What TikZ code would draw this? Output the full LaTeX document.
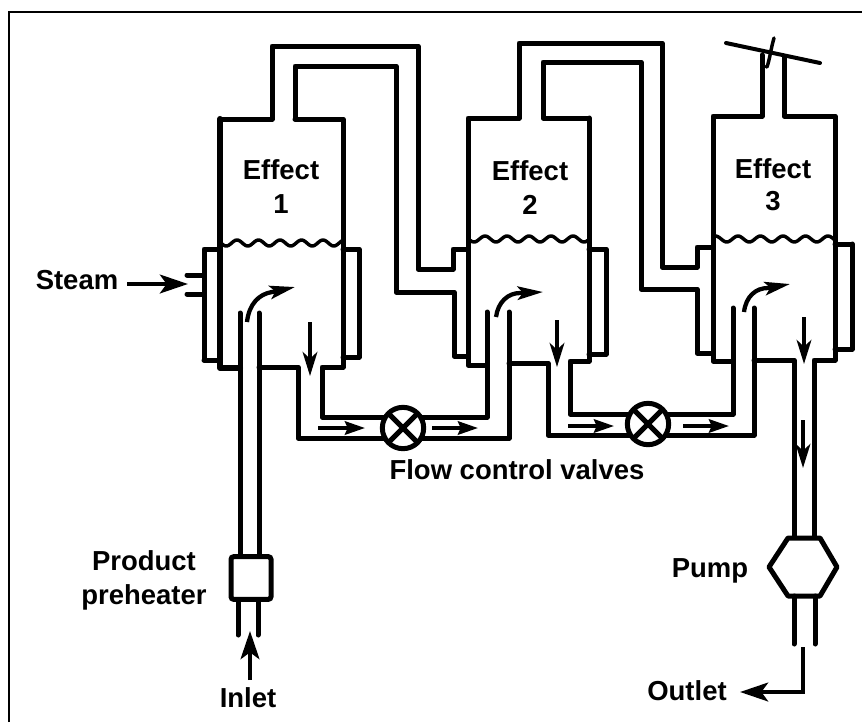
\documentclass[tikz,border=0pt]{standalone}
\usepackage{fontspec}
\setmainfont{Liberation Sans}
\usetikzlibrary{arrows.meta,calc,shapes.misc}
\tikzset{
  px/.style={x=0.75pt,y=-0.75pt},
  pipe/.style={line width=3.75pt,line join=round,line cap=round},
  wall/.style={line width=3.75pt,line join=round,line cap=round},
  wave/.style={line width=2.6pt,line join=round},
  frameline/.style={line width=2pt},
  flowH/.style={line width=2.8pt,-{Stealth[length=15pt,width=10pt,inset=2pt]}},
  flowV/.style={line width=2.8pt,-{Stealth[length=18pt,width=11pt,inset=5pt]}},
  flowBig/.style={line width=3.4pt,-{Stealth[length=21pt,width=14pt,inset=5pt]}},
  curl/.style={line width=3.2pt,-{Stealth[length=19pt,width=10pt,inset=4pt]}},
  lbl/.style={font=\bfseries\fontsize{20.6pt}{24pt}\selectfont,inner sep=0pt,anchor=base},
  valve/.style={circle,draw,fill=white,line width=3.75pt,minimum size=31pt,inner sep=0pt,
    path picture={\draw[line width=3.75pt] (path picture bounding box.north west) -- (path picture bounding box.south east)
      (path picture bounding box.south west) -- (path picture bounding box.north east);}},
  heater/.style={rectangle,rounded corners=2pt,draw,fill=white,line width=3.75pt,minimum width=30pt,minimum height=32pt,inner sep=0pt}
}
\begin{document}
\begin{tikzpicture}[px]
\useasboundingbox (0,0) rectangle (862,722);
\fill[white] (0,0) rectangle (862,722);
% frame
\draw[frameline] (9,722) -- (9,12) -- (862,12);

% Effect 1 vessel + vapour pipe
\draw[pipe] (220,119) -- (272,119) -- (272,46) -- (418,46) -- (418,269) -- (453,269) -- (453,249) -- (468,249);
\draw[pipe,line width=4.6pt] (240,368) -- (220,368) -- (220,119);
\draw[pipe] (295,119) -- (295,66) -- (396,66) -- (396,292) -- (454,292) -- (454,356) -- (468,356);
\draw[pipe] (295,119) -- (343,119) -- (343,367) -- (322,367) -- (322,417) -- (487,417) -- (487,312);
\draw[pipe] (204,360) -- (204,249) -- (220,249);
\draw[pipe] (220,360) -- (204,360);
\draw[pipe] (343,249) -- (359,249) -- (359,357) -- (343,357);
\draw[pipe] (240,313) -- (240,555);
\draw[pipe] (259,313) -- (259,555);
\draw[pipe] (259,367) -- (298,367) -- (298,438) -- (509,438) -- (509,312);
\draw[pipe] (187,275) -- (204,275);
\draw[pipe] (187,294) -- (204,294);
\draw[wave] plot[domain=220:343,samples=90,smooth] (\x,{243-3*cos((\x-237)*16.74)});

% Effect 2
\draw[pipe] (487,365) -- (468,365) -- (468,118) -- (519,118) -- (519,43) -- (662,43) -- (662,267) -- (697,267) -- (697,247) -- (712,247);
\draw[pipe] (589,118) -- (543,118) -- (543,62) -- (641,62) -- (641,289) -- (697,289) -- (697,353) -- (712,353);
\draw[wall] (589,118) -- (589,361) -- (570,361) -- (570,414) -- (733,414) -- (733,308);
\draw[pipe] (589,249) -- (606,249) -- (606,354) -- (589,354);
\draw[pipe] (509,363) -- (548,363) -- (548,435) -- (754,435) -- (754,308);
\draw[wave] plot[domain=468:589,samples=90,smooth] (\x,{239-3*cos((\x-485)*16.36)});

% Effect 3
\draw[pipe] (733,361) -- (713,361) -- (713,116) -- (762,116) -- (762,55);
\draw[pipe] (784,57) -- (784,116) -- (835,116) -- (835,360) -- (814,360) -- (814,538);
\draw[wall] (835,244) -- (852,244);
\draw[pipe] (852,244) -- (852,349) -- (835,349);
\draw[pipe] (754,360) -- (794,360) -- (794,538);
\draw[wave] plot[domain=713:835,samples=90,smooth] (\x,{239-3*cos((\x-738)*16)});

% butterfly valve at the vapour outlet
\draw[line width=3pt,line cap=round] (726,43) -- (820,63);
\draw[line width=2.6pt,line cap=round] (774,38) .. controls (771,48) and (770,58) .. (767,67);
\draw[line width=2pt] (762,55) -- (763,66) -- (767,67);

% valves
\node[valve] (v1) at (403,428) {};
\node[valve] (v2) at (648,424) {};

% preheater
\node[heater] (ph) at (251,578) {};
\draw[pipe] (238,601) -- (238,635);
\draw[pipe] (258,601) -- (258,635);

% pump
\coordinate (pa) at (788,538);
\coordinate (pb) at (820,538);
\coordinate (pc) at (837,567);
\coordinate (pd) at (820,596);
\coordinate (pe) at (788,596);
\coordinate (pf) at (769,567);
\draw[pipe,fill=white] (pa) -- (pb) -- (pc) -- (pd) -- (pe) -- (pf) -- cycle;
\draw[pipe] (794,596) -- (794,644);
\draw[pipe] (815,596) -- (815,644);

% flow arrows
\draw[flowBig] (127,284) -- (188,284);
\draw[flowH] (318,428) -- (365,428);
\draw[flowH] (432,428) -- (478,428);
\draw[flowH] (568,426) -- (614,426);
\draw[flowH] (683,426) -- (729,426);
\draw[flowV] (310,322) -- (310,376);
\draw[flowV] (557,320) -- (557,367);
\draw[flowV] (804,317) -- (804,364);
\draw[flowV] (803,420) -- (803,468);
\draw[flowBig] (250,680) -- (250,631);
\draw[flowBig,line join=miter] (803,647) -- (803,692) -- (740,692);
\draw[curl] (247,322) .. controls (249,304) and (259,294) .. (272,292) -- (295,287);
\draw[curl] (496,317) .. controls (498,302) and (508,293) .. (520,293) -- (543,292);
\draw[curl] (744,312) .. controls (746,296) and (756,288) .. (768,288) -- (790,284);

% labels
\node[lbl] (e1a) at (281,179) {Effect};
\node[lbl] (e1b) at (281,213) {1};
\node[lbl] (e2a) at (530,180) {Effect};
\node[lbl] (e2b) at (530,214) {2};
\node[lbl] (e3a) at (773,178) {Effect};
\node[lbl] (e3b) at (773,210) {3};
\node[lbl] (steam) at (77,289) {Steam};
\node[lbl] (flow) at (517,479) {Flow control valves};
\node[lbl] (prod) at (144,570) {Product};
\node[lbl] (preh) at (144,604) {preheater};
\node[lbl] (pumpl) at (710,577) {Pump};
\node[lbl] (outl) at (687,700) {Outlet};
\node[lbl] (inl) at (248,707) {Inlet};
\end{tikzpicture}
\end{document}
